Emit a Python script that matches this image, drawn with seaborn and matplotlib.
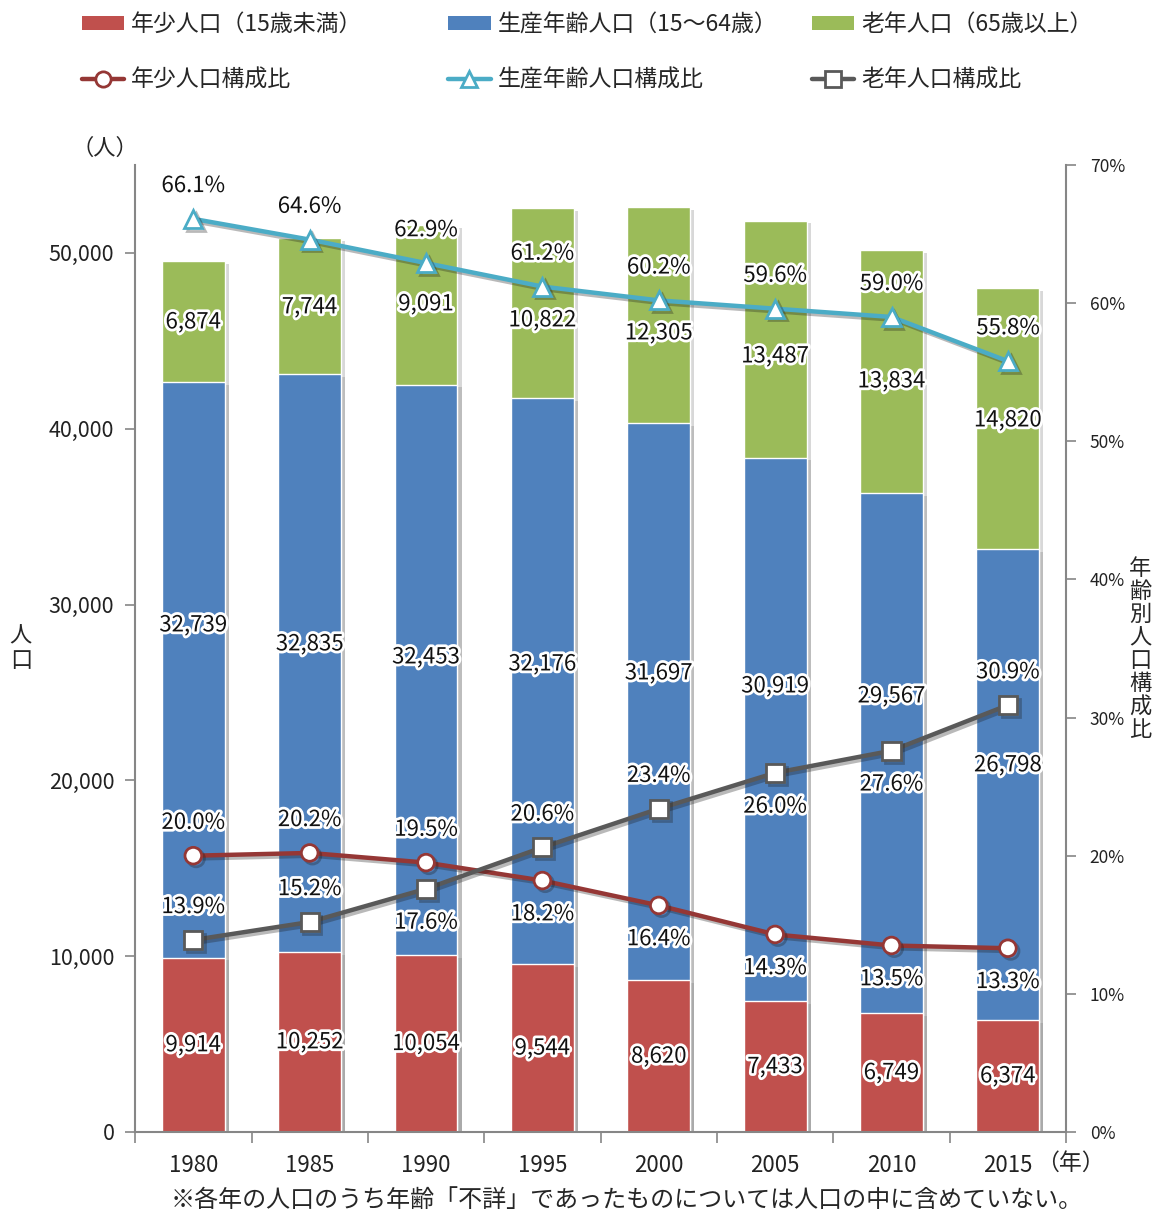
import numpy as np
import pandas as pd
import matplotlib
matplotlib.use('Agg')
import matplotlib.pyplot as plt
import matplotlib.patheffects as pe
from matplotlib.patches import Patch
from matplotlib.lines import Line2D
from matplotlib.ticker import FixedLocator, FuncFormatter
import seaborn as sns

# data
years = ['1980', '1985', '1990', '1995', '2000', '2005', '2010', '2015']
young = [9914, 10252, 10054, 9544, 8620, 7433, 6749, 6374]
working = [32739, 32835, 32453, 32176, 31697, 30919, 29567, 26798]
elderly = [6874, 7744, 9091, 10822, 12305, 13487, 13834, 14820]
young_pct = [20.0, 20.2, 19.5, 18.2, 16.4, 14.3, 13.5, 13.3]
working_pct = [66.1, 64.6, 62.9, 61.2, 60.2, 59.6, 59.0, 55.8]
elderly_pct = [13.9, 15.2, 17.6, 20.6, 23.4, 26.0, 27.6, 30.9]

# where the labels sit (moved by hand in the original)
working_label_y = [28840, 27760, 27020, 26620, 26110, 25370, 24800, 20880]
elderly_label_y = [46075, 46930, 47100, 46190, 45450, 44140, 42720, 40500]
young_pct_side = [1, 1, 1, -1, -1, -1, -1, -1]
elderly_pct_side = [1, 1, -1, 1, 1, -1, -1, 1]

RED = '#C0504D'
BLUE = '#4F81BD'
GREEN = '#9BBB59'
LINE_RED = '#953735'
LINE_BLUE = '#4BACC6'
LINE_GRAY = '#595959'
SPINE = '#868686'

sns.set_theme(style='white')
plt.rcParams['font.family'] = ['Noto Sans CJK JP', 'DejaVu Sans']

df = pd.DataFrame({'year': years, 'young': young, 'working': working, 'elderly': elderly})
df['young_work'] = df['young'] + df['working']
df['total'] = df['young_work'] + df['elderly']

fig = plt.figure(figsize=(11.55, 12.16), dpi=100)
ax = fig.add_axes([0.117, 0.0691, 0.806, 0.7952])

shadow = [pe.SimplePatchShadow(offset=(3, -2), shadow_rgbFace='#808080', alpha=0.3), pe.Normal()]
for col, color in [('total', GREEN), ('young_work', BLUE), ('young', RED)]:
    sns.barplot(data=df, x='year', y=col, order=years, color=color, saturation=1,
                width=0.54, ax=ax)
for p in ax.patches:
    p.set_path_effects(shadow)

ax.set_xlim(-0.5, 7.5)
ax.set_ylim(0, 55000)
ax.set_yticks(np.arange(0, 50001, 10000))
ax.yaxis.set_major_formatter(FuncFormatter(lambda v, _: f'{int(v):,}'))
ax.set_xlabel('')
ax.set_ylabel('')
ax.xaxis.set_minor_locator(FixedLocator(np.arange(-0.5, 8, 1)))
ax.tick_params(axis='x', which='major', length=0, pad=16, labelsize=16, colors='#222222')
ax.tick_params(axis='x', which='minor', length=8, width=1.2, color=SPINE, direction='out', bottom=True)
ax.tick_params(axis='y', length=7, width=1.2, color=SPINE, direction='out', left=True,
               labelsize=15.5, labelcolor='#222222', pad=8)
for s in ['top', 'right']:
    ax.spines[s].set_visible(False)
for s in ['left', 'bottom']:
    ax.spines[s].set_color(SPINE)
    ax.spines[s].set_linewidth(1.5)

glow = [pe.withStroke(linewidth=4, foreground='white')]
lab_kw = dict(ha='center', va='center', fontsize=16, color='#111111', path_effects=glow, zorder=5)
for i in range(len(years)):
    ax.text(i, young[i] / 2, f'{young[i]:,}', **lab_kw)
    ax.text(i, working_label_y[i], f'{working[i]:,}', **lab_kw)
    ax.text(i, elderly_label_y[i], f'{elderly[i]:,}', **lab_kw)

# ratio lines on the right axis
ax2 = ax.twinx()
xpos = np.arange(len(years))
line_shadow = [pe.SimpleLineShadow(offset=(2, -2), alpha=0.3), pe.Normal()]
series = [
    (young_pct, LINE_RED, 'o', 12, young_pct_side),
    (working_pct, LINE_BLUE, '^', 13, [1] * len(years)),
    (elderly_pct, LINE_GRAY, 's', 13, elderly_pct_side),
]
for vals, color, marker, ms, side in series:
    sns.lineplot(x=xpos, y=vals, ax=ax2, color=color, linewidth=3.2, marker=marker,
                 markersize=ms, markerfacecolor='white', markeredgecolor=color,
                 markeredgewidth=2, path_effects=line_shadow)
    for i, v in enumerate(vals):
        ax2.annotate(f'{v:.1f}%', (xpos[i], v), xytext=(0, 24 * side[i]),
                     textcoords='offset points', ha='center', va='center',
                     fontsize=16, color='#111111', path_effects=glow, zorder=6)

ax2.set_xlim(-0.5, 7.5)
ax2.set_ylim(0, 70)
ax2.set_yticks(np.arange(0, 71, 10))
ax2.yaxis.set_major_formatter(FuncFormatter(lambda v, _: f'{int(v)}%'))
ax2.set_ylabel('')
ax2.tick_params(axis='y', length=7, width=1.2, color=SPINE, direction='out', right=True,
                labelsize=12.5, labelcolor='#222222', pad=10)
for s in ['top', 'left', 'bottom']:
    ax2.spines[s].set_visible(False)
ax2.spines['right'].set_color(SPINE)
ax2.spines['right'].set_linewidth(1.5)

# axis captions
fig.text(0.091, 0.878, '（人）', ha='center', va='center', fontsize=16)
fig.text(0.018, 0.467, '人\n口', ha='center', va='center', fontsize=16, linespacing=1.1)
fig.text(0.987, 0.466, '\n'.join('年齢別人口構成比'), ha='center', va='center',
         fontsize=16, linespacing=1.0)
fig.text(0.927, 0.0436, '（年）', ha='center', va='center', fontsize=16.5)
fig.text(0.543, 0.013, '※各年の人口のうち年齢「不詳」であったものについては人口の中に含めていない。',
         ha='center', va='center', fontsize=17.3)

# legends: one per column, bar on top, line below
groups = [
    (RED, LINE_RED, 'o', '年少人口（15歳未満）', '年少人口構成比', 0.071),
    (BLUE, LINE_BLUE, '^', '生産年齢人口（15～64歳）', '生産年齢人口構成比', 0.388),
    (GREEN, LINE_GRAY, 's', '老年人口（65歳以上）', '老年人口構成比', 0.703),
]
for bar_c, line_c, mk, bar_lab, line_lab, x0 in groups:
    handles = [
        Patch(facecolor=bar_c, edgecolor='none'),
        Line2D([], [], color=line_c, linewidth=3.2, marker=mk, markersize=11,
               markerfacecolor='white', markeredgecolor=line_c, markeredgewidth=2),
    ]
    fig.legend(handles, [bar_lab, line_lab], loc='center left',
               bbox_to_anchor=(x0, 0.957), frameon=False, fontsize=16.5,
               handlelength=1.85, handleheight=0.55, handletextpad=0.3,
               labelspacing=1.4, borderpad=0, borderaxespad=0)

fig.savefig('out.png', dpi=100)
